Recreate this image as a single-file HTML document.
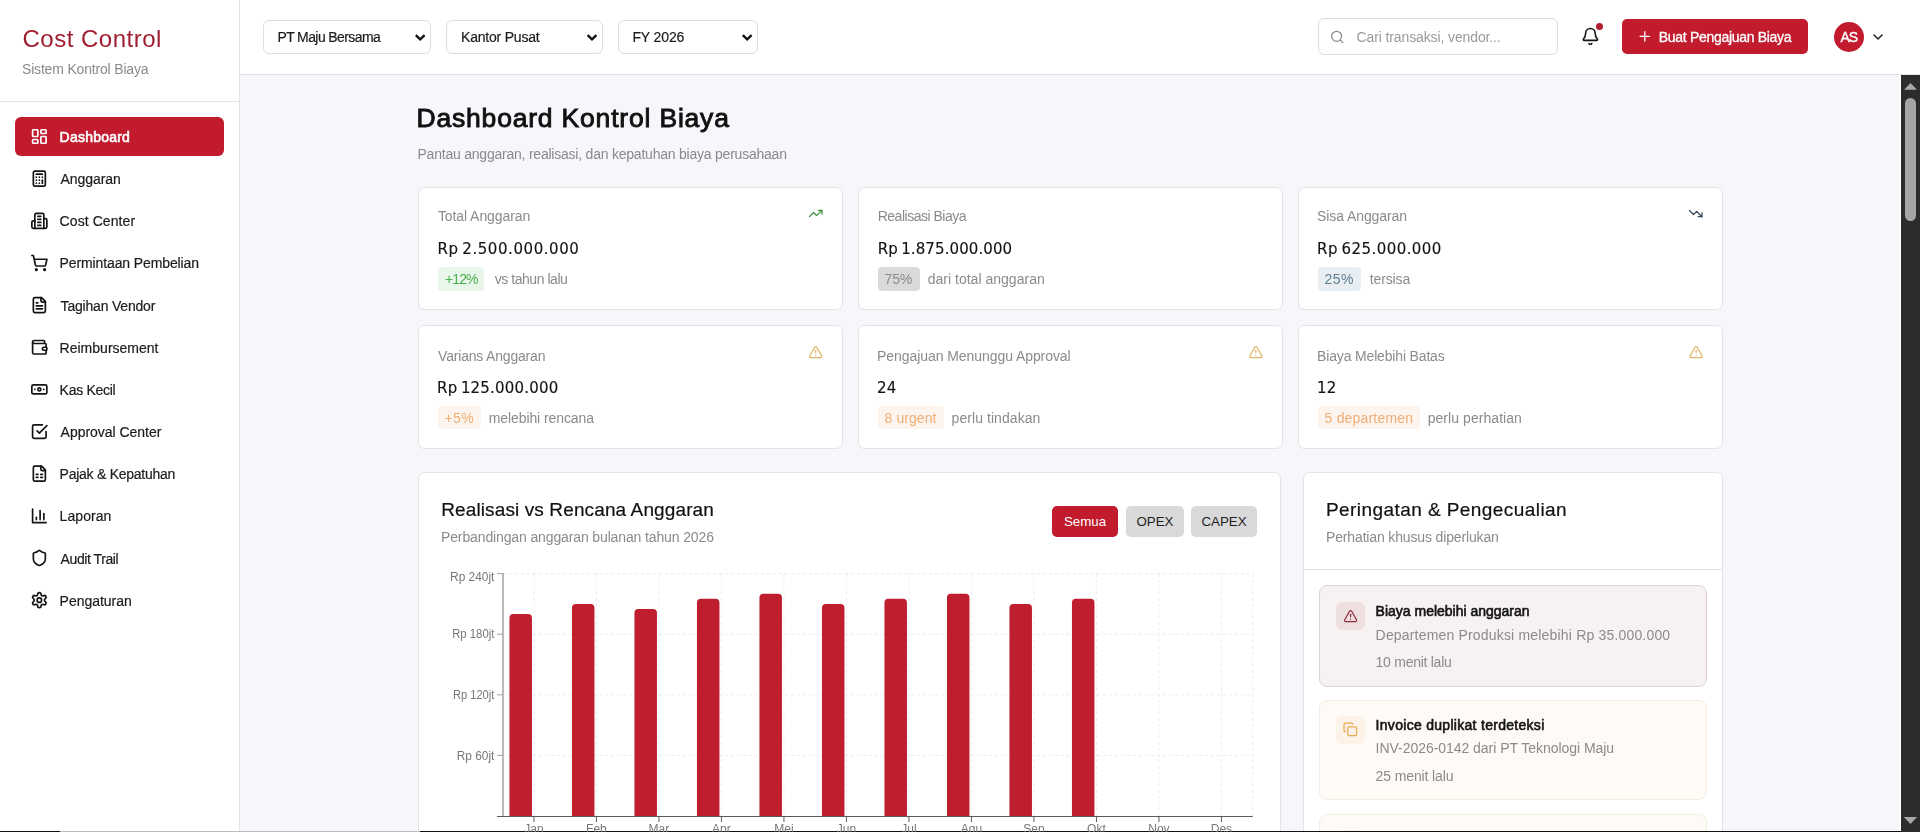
<!DOCTYPE html>
<html lang="id"><head><meta charset="utf-8"><title>Cost Control - Dashboard Kontrol Biaya</title>
<style>
html,body{margin:0;padding:0}
body{width:1920px;height:832px;overflow:hidden;position:relative;background:#f6f6fb;font-family:"Liberation Sans", Arial, sans-serif}
.b{position:absolute}
.t{position:absolute;white-space:pre;line-height:1;font-family:"Liberation Sans", Arial, sans-serif}
.btn{position:absolute;border-radius:5px;font-family:Arial,"Liberation Sans",sans-serif;font-size:13.333px;line-height:31px;text-align:center}
svg.ov{position:absolute;left:0;top:0;font-family:"Liberation Sans", Arial, sans-serif;will-change:transform}
.tx{position:absolute;left:0;top:0;width:1920px;height:832px;will-change:transform}
</style></head><body>
<div class="b" style="left:0px;top:0px;width:239px;height:832px;background:#fff"></div>
<div class="b" style="left:239px;top:0px;width:1px;height:832px;background:#e3e3e7"></div>
<div class="b" style="left:0px;top:101px;width:239px;height:1px;background:#e3e3e7"></div>
<div class="b" style="left:15px;top:117px;width:209px;height:39px;background:#c11b2d;border-radius:6px"></div>
<div class="b" style="left:240px;top:0px;width:1680px;height:74px;background:#fff"></div>
<div class="b" style="left:240px;top:74px;width:1680px;height:1px;background:#e3e3e7"></div>
<div class="b" style="left:263px;top:20px;width:168px;height:34px;box-sizing:border-box;border:1px solid #dedee2;border-radius:6px;background:#fff"></div>
<div class="b" style="left:446px;top:20px;width:157px;height:34px;box-sizing:border-box;border:1px solid #dedee2;border-radius:6px;background:#fff"></div>
<div class="b" style="left:618px;top:20px;width:140px;height:34px;box-sizing:border-box;border:1px solid #dedee2;border-radius:6px;background:#fff"></div>
<div class="b" style="left:1318px;top:18px;width:240px;height:36.5px;box-sizing:border-box;border:1px solid #dedee2;border-radius:6px;background:#fff"></div>
<div class="b" style="left:1622px;top:19px;width:186px;height:35px;background:#c11b2d;border-radius:5px"></div>
<div class="b" style="left:1834px;top:22px;width:30px;height:30px;background:#c11b2d;border-radius:50%"></div>
<div class="b" style="left:1596.1px;top:23.3px;width:7px;height:7px;background:#b31e32;border-radius:50%"></div>
<div class="b" style="left:418px;top:186.7px;width:425px;height:123.4px;box-sizing:border-box;border:1px solid #e3e3e7;border-radius:6.5px;background:#fff"></div>
<div class="b" style="left:858px;top:186.7px;width:425px;height:123.4px;box-sizing:border-box;border:1px solid #e3e3e7;border-radius:6.5px;background:#fff"></div>
<div class="b" style="left:1298px;top:186.7px;width:425px;height:123.4px;box-sizing:border-box;border:1px solid #e3e3e7;border-radius:6.5px;background:#fff"></div>
<div class="b" style="left:418px;top:324.9px;width:425px;height:124px;box-sizing:border-box;border:1px solid #e3e3e7;border-radius:6.5px;background:#fff"></div>
<div class="b" style="left:858px;top:324.9px;width:425px;height:124px;box-sizing:border-box;border:1px solid #e3e3e7;border-radius:6.5px;background:#fff"></div>
<div class="b" style="left:1298px;top:324.9px;width:425px;height:124px;box-sizing:border-box;border:1px solid #e3e3e7;border-radius:6.5px;background:#fff"></div>
<div class="b" style="left:438.4px;top:267.3px;width:45.8px;height:23.5px;background:#e9f6ea;border-radius:4px"></div>
<div class="b" style="left:878.2px;top:267.3px;width:41.7px;height:23.5px;background:#dadada;border-radius:4px"></div>
<div class="b" style="left:1318.1px;top:267.3px;width:42.7px;height:23.5px;background:#e8eef2;border-radius:4px"></div>
<div class="b" style="left:438.1px;top:406.2px;width:43.4px;height:22.8px;background:#fdf5ed;border-radius:4px"></div>
<div class="b" style="left:878.1px;top:406.2px;width:65.6px;height:22.8px;background:#fdf5ed;border-radius:4px"></div>
<div class="b" style="left:1318.1px;top:406.2px;width:101.5px;height:22.8px;background:#fdf5ed;border-radius:4px"></div>
<div class="b" style="left:418px;top:471.8px;width:862.5px;height:420px;box-sizing:border-box;border:1px solid #e3e3e7;border-radius:6.5px;background:#fff"></div>
<div class="b" style="left:1303px;top:471.8px;width:419.5px;height:420px;box-sizing:border-box;border:1px solid #e3e3e7;border-radius:6.5px;background:#fff"></div>
<div class="b" style="left:1304px;top:569px;width:418px;height:1px;background:#e3e3e7"></div>
<div class="b" style="left:1319px;top:585.3px;width:387.8px;height:101.5px;box-sizing:border-box;border:1px solid #dcd3d4;border-radius:8px;background:#f8f1f1"></div>
<div class="b" style="left:1335.5px;top:601.7px;width:29px;height:28px;background:#eedfe0;border-radius:6px"></div>
<div class="b" style="left:1319px;top:699.6px;width:387.8px;height:100.5px;box-sizing:border-box;border:1px solid #f4ece2;border-radius:8px;background:#fefaf5"></div>
<div class="b" style="left:1335.5px;top:716px;width:29px;height:28px;background:#fdf2e7;border-radius:6px"></div>
<div class="b" style="left:1319px;top:813.5px;width:387.8px;height:100.5px;box-sizing:border-box;border:1px solid #f4ece2;border-radius:8px;background:#fefaf5"></div>
<div class="b" style="left:1335.5px;top:829.8px;width:29px;height:28px;background:#fdf2e7;border-radius:6px"></div>
<div class="b" style="left:1900px;top:75px;width:1px;height:757px;background:#fff"></div>
<div class="b" style="left:1901px;top:75px;width:19px;height:757px;background:#2c2c2c"></div>
<div class="b" style="left:1905px;top:98px;width:11px;height:123px;background:#a5a5a5;border-radius:6px"></div>
<div class="b" style="left:0px;top:831px;width:60px;height:1px;background:#111"></div>
<div class="b" style="left:60px;top:831px;width:360px;height:1px;background:#bcbcbf"></div>
<div class="b" style="left:420px;top:831px;width:1481px;height:1px;background:#111"></div>
<svg class="ov" width="1920" height="832" viewBox="0 0 1920 832">
<g transform="translate(30.35 127.50) scale(0.7500)" fill="none" stroke="#fff" stroke-width="2.25" stroke-linecap="round" stroke-linejoin="round"><rect width="7" height="9" x="3" y="3" rx="1"/><rect width="7" height="5" x="14" y="3" rx="1"/><rect width="7" height="9" x="14" y="12" rx="1"/><rect width="7" height="5" x="3" y="16" rx="1"/></g>
<g transform="translate(30.35 169.65) scale(0.7500)" fill="none" stroke="#141414" stroke-width="2.25" stroke-linecap="round" stroke-linejoin="round"><rect width="16" height="20" x="4" y="2" rx="2"/><line x1="8" x2="16" y1="6" y2="6"/><line x1="16" x2="16" y1="14" y2="18"/><path d="M16 10h.01"/><path d="M12 10h.01"/><path d="M8 10h.01"/><path d="M12 14h.01"/><path d="M8 14h.01"/><path d="M12 18h.01"/><path d="M8 18h.01"/></g>
<g transform="translate(30.35 211.80) scale(0.7500)" fill="none" stroke="#141414" stroke-width="2.25" stroke-linecap="round" stroke-linejoin="round"><path d="M6 22V4a2 2 0 0 1 2-2h8a2 2 0 0 1 2 2v18Z"/><path d="M6 12H4a2 2 0 0 0-2 2v6a2 2 0 0 0 2 2h2"/><path d="M18 9h2a2 2 0 0 1 2 2v9a2 2 0 0 1-2 2h-2"/><path d="M10 6h4"/><path d="M10 10h4"/><path d="M10 14h4"/><path d="M10 18h4"/></g>
<g transform="translate(30.35 253.95) scale(0.7500)" fill="none" stroke="#141414" stroke-width="2.25" stroke-linecap="round" stroke-linejoin="round"><circle cx="8" cy="21" r="1"/><circle cx="19" cy="21" r="1"/><path d="M2.05 2.05h2l2.66 12.42a2 2 0 0 0 2 1.58h9.78a2 2 0 0 0 1.95-1.57l1.65-7.43H5.12"/></g>
<g transform="translate(30.35 296.10) scale(0.7500)" fill="none" stroke="#141414" stroke-width="2.25" stroke-linecap="round" stroke-linejoin="round"><path d="M15 2H6a2 2 0 0 0-2 2v16a2 2 0 0 0 2 2h12a2 2 0 0 0 2-2V7Z"/><path d="M14 2v4a2 2 0 0 0 2 2h4"/><path d="M10 9H8"/><path d="M16 13H8"/><path d="M16 17H8"/></g>
<g transform="translate(30.35 338.25) scale(0.7500)" fill="none" stroke="#141414" stroke-width="2.25" stroke-linecap="round" stroke-linejoin="round"><path d="M19 7V4a1 1 0 0 0-1-1H5a2 2 0 0 0 0 4h15a1 1 0 0 1 1 1v4h-3a2 2 0 0 0 0 4h3a1 1 0 0 0 1-1v-2a1 1 0 0 0-1-1"/><path d="M3 5v14a2 2 0 0 0 2 2h15a1 1 0 0 0 1-1v-4"/></g>
<g transform="translate(30.35 380.40) scale(0.7500)" fill="none" stroke="#141414" stroke-width="2.25" stroke-linecap="round" stroke-linejoin="round"><rect width="20" height="12" x="2" y="6" rx="2"/><circle cx="12" cy="12" r="2"/><path d="M6 12h.01M18 12h.01"/></g>
<g transform="translate(30.35 422.55) scale(0.7500)" fill="none" stroke="#141414" stroke-width="2.25" stroke-linecap="round" stroke-linejoin="round"><path d="m9 11 3 3L22 4"/><path d="M21 12v7a2 2 0 0 1-2 2H5a2 2 0 0 1-2-2V5a2 2 0 0 1 2-2h11"/></g>
<g transform="translate(30.35 464.70) scale(0.7500)" fill="none" stroke="#141414" stroke-width="2.25" stroke-linecap="round" stroke-linejoin="round"><path d="M15 2H6a2 2 0 0 0-2 2v16a2 2 0 0 0 2 2h12a2 2 0 0 0 2-2V7Z"/><path d="M14 2v4a2 2 0 0 0 2 2h4"/><path d="M8 13h2"/><path d="M14 13h2"/><path d="M8 17h2"/><path d="M14 17h2"/></g>
<g transform="translate(30.35 506.85) scale(0.7500)" fill="none" stroke="#141414" stroke-width="2.25" stroke-linecap="round" stroke-linejoin="round"><path d="M3 3v18h18"/><path d="M18 17V9"/><path d="M13 17V5"/><path d="M8 17v-3"/></g>
<g transform="translate(30.35 549.00) scale(0.7500)" fill="none" stroke="#141414" stroke-width="2.25" stroke-linecap="round" stroke-linejoin="round"><path d="M20 13c0 5-3.5 7.5-7.66 8.95a1 1 0 0 1-.67-.01C7.5 20.5 4 18 4 13V6a1 1 0 0 1 1-1c2 0 4.5-1.2 6.24-2.72a1.17 1.17 0 0 1 1.52 0C14.51 3.81 17 5 19 5a1 1 0 0 1 1 1z"/></g>
<g transform="translate(30.35 591.15) scale(0.7500)" fill="none" stroke="#141414" stroke-width="2.25" stroke-linecap="round" stroke-linejoin="round"><path d="M12.22 2h-.44a2 2 0 0 0-2 2v.18a2 2 0 0 1-1 1.73l-.43.25a2 2 0 0 1-2 0l-.15-.08a2 2 0 0 0-2.73.73l-.22.38a2 2 0 0 0 .73 2.73l.15.1a2 2 0 0 1 1 1.72v.51a2 2 0 0 1-1 1.74l-.15.09a2 2 0 0 0-.73 2.730l.22.38a2 2 0 0 0 2.73.73l.15-.08a2 2 0 0 1 2 0l.43.25a2 2 0 0 1 1 1.73V20a2 2 0 0 0 2 2h.44a2 2 0 0 0 2-2v-.18a2 2 0 0 1 1-1.73l.43-.25a2 2 0 0 1 2 0l.15.08a2 2 0 0 0 2.73-.73l.22-.39a2 2 0 0 0-.73-2.73l-.15-.08a2 2 0 0 1-1-1.74v-.5a2 2 0 0 1 1-1.74l.15-.09a2 2 0 0 0 .73-2.73l-.22-.38a2 2 0 0 0-2.73-.73l-.15.08a2 2 0 0 1-2 0l-.43-.25a2 2 0 0 1-1-1.73V4a2 2 0 0 0-2-2z"/><circle cx="12" cy="12" r="3"/></g>
<g transform="translate(415.6 34.6)"><path d="M0.2 0.6 L4.6 4.7 L9.0 0.6" fill="none" stroke="#111" stroke-width="2.4"/></g>
<g transform="translate(587.4 34.6)"><path d="M0.2 0.6 L4.6 4.7 L9.0 0.6" fill="none" stroke="#111" stroke-width="2.4"/></g>
<g transform="translate(742.6 34.6)"><path d="M0.2 0.6 L4.6 4.7 L9.0 0.6" fill="none" stroke="#111" stroke-width="2.4"/></g>
<g transform="translate(1329.75 29.45) scale(0.6250)" fill="none" stroke="#8a8a8a" stroke-width="2" stroke-linecap="round" stroke-linejoin="round"><circle cx="11" cy="11" r="8"/><path d="m21 21-4.3-4.3"/></g>
<g transform="translate(1580.90 26.90) scale(0.7917)" fill="none" stroke="#141414" stroke-width="2" stroke-linecap="round" stroke-linejoin="round"><path d="M10.268 21a2 2 0 0 0 3.464 0"/><path d="M3.262 15.326A1 1 0 0 0 4 17h16a1 1 0 0 0 .74-1.673C19.41 13.956 18 12.499 18 8A6 6 0 0 0 6 8c0 4.499-1.411 5.956-2.738 7.326"/></g>
<g transform="translate(1636.80 28.40) scale(0.6667)" fill="none" stroke="#fff" stroke-width="2" stroke-linecap="round" stroke-linejoin="round"><path d="M5 12h14"/><path d="M12 5v14"/></g>
<g transform="translate(1870.00 29.00) scale(0.6667)" fill="none" stroke="#141414" stroke-width="2" stroke-linecap="round" stroke-linejoin="round"><path d="m6 9 6 6 6-6"/></g>
<g transform="translate(808.20 205.95) scale(0.6250)" fill="none" stroke="#3a8f3f" stroke-width="2" stroke-linecap="round" stroke-linejoin="round"><polyline points="22 7 13.5 15.5 8.5 10.5 2 17"/><polyline points="16 7 22 7 22 13"/></g>
<g transform="translate(1688.20 206.10) scale(0.6250)" fill="none" stroke="#33485a" stroke-width="2" stroke-linecap="round" stroke-linejoin="round"><polyline points="22 17 13.5 8.5 8.5 13.5 2 7"/><polyline points="16 17 22 17 22 11"/></g>
<g transform="translate(808.45 344.90) scale(0.6042)" fill="none" stroke="#dcb463" stroke-width="2" stroke-linecap="round" stroke-linejoin="round"><path d="m21.73 18-8-14a2 2 0 0 0-3.48 0l-8 14A2 2 0 0 0 4 21h16a2 2 0 0 0 1.73-3"/><path d="M12 9v4"/><path d="M12 17h.01"/></g>
<g transform="translate(1248.60 344.90) scale(0.6042)" fill="none" stroke="#dcb463" stroke-width="2" stroke-linecap="round" stroke-linejoin="round"><path d="m21.73 18-8-14a2 2 0 0 0-3.48 0l-8 14A2 2 0 0 0 4 21h16a2 2 0 0 0 1.73-3"/><path d="M12 9v4"/><path d="M12 17h.01"/></g>
<g transform="translate(1688.90 344.90) scale(0.6042)" fill="none" stroke="#dcb463" stroke-width="2" stroke-linecap="round" stroke-linejoin="round"><path d="m21.73 18-8-14a2 2 0 0 0-3.48 0l-8 14A2 2 0 0 0 4 21h16a2 2 0 0 0 1.73-3"/><path d="M12 9v4"/><path d="M12 17h.01"/></g>
<g transform="translate(1343.35 608.90) scale(0.6042)" fill="none" stroke="#8f2a3a" stroke-width="2" stroke-linecap="round" stroke-linejoin="round"><path d="m21.73 18-8-14a2 2 0 0 0-3.48 0l-8 14A2 2 0 0 0 4 21h16a2 2 0 0 0 1.73-3"/><path d="M12 9v4"/><path d="M12 17h.01"/></g>
<g transform="translate(1342.80 721.80) scale(0.6250)" fill="none" stroke="#e8aa52" stroke-width="2" stroke-linecap="round" stroke-linejoin="round"><rect width="14" height="14" x="8" y="8" rx="2" ry="2"/><path d="M4 16c-1.1 0-2-.9-2-2V4c0-1.1.9-2 2-2h10c1.1 0 2 .9 2 2"/></g>
<g stroke="#ebebeb" stroke-width="1" stroke-dasharray="3 3"><line x1="502.7" y1="573.60" x2="1252.7" y2="573.60"/><line x1="502.7" y1="634.20" x2="1252.7" y2="634.20"/><line x1="502.7" y1="694.80" x2="1252.7" y2="694.80"/><line x1="502.7" y1="755.40" x2="1252.7" y2="755.40"/><line x1="533.95" y1="573.6" x2="533.95" y2="816.0"/><line x1="596.45" y1="573.6" x2="596.45" y2="816.0"/><line x1="658.95" y1="573.6" x2="658.95" y2="816.0"/><line x1="721.45" y1="573.6" x2="721.45" y2="816.0"/><line x1="783.95" y1="573.6" x2="783.95" y2="816.0"/><line x1="846.45" y1="573.6" x2="846.45" y2="816.0"/><line x1="908.95" y1="573.6" x2="908.95" y2="816.0"/><line x1="971.45" y1="573.6" x2="971.45" y2="816.0"/><line x1="1033.95" y1="573.6" x2="1033.95" y2="816.0"/><line x1="1096.45" y1="573.6" x2="1096.45" y2="816.0"/><line x1="1158.95" y1="573.6" x2="1158.95" y2="816.0"/><line x1="1221.45" y1="573.6" x2="1221.45" y2="816.0"/><line x1="1252.7" y1="573.6" x2="1252.7" y2="816.0"/></g>
<path d="M509.45 816.0 V618.00 Q509.45 614.00 513.45 614.00 H527.95 Q531.95 614.00 531.95 618.00 V816.0 Z" fill="#be1e2e"/>
<path d="M571.95 816.0 V607.90 Q571.95 603.90 575.95 603.90 H590.45 Q594.45 603.90 594.45 607.90 V816.0 Z" fill="#be1e2e"/>
<path d="M634.45 816.0 V612.95 Q634.45 608.95 638.45 608.95 H652.95 Q656.95 608.95 656.95 612.95 V816.0 Z" fill="#be1e2e"/>
<path d="M696.95 816.0 V602.85 Q696.95 598.85 700.95 598.85 H715.45 Q719.45 598.85 719.45 602.85 V816.0 Z" fill="#be1e2e"/>
<path d="M759.45 816.0 V597.80 Q759.45 593.80 763.45 593.80 H777.95 Q781.95 593.80 781.95 597.80 V816.0 Z" fill="#be1e2e"/>
<path d="M821.95 816.0 V607.90 Q821.95 603.90 825.95 603.90 H840.45 Q844.45 603.90 844.45 607.90 V816.0 Z" fill="#be1e2e"/>
<path d="M884.45 816.0 V602.85 Q884.45 598.85 888.45 598.85 H902.95 Q906.95 598.85 906.95 602.85 V816.0 Z" fill="#be1e2e"/>
<path d="M946.95 816.0 V597.80 Q946.95 593.80 950.95 593.80 H965.45 Q969.45 593.80 969.45 597.80 V816.0 Z" fill="#be1e2e"/>
<path d="M1009.45 816.0 V607.90 Q1009.45 603.90 1013.45 603.90 H1027.95 Q1031.95 603.90 1031.95 607.90 V816.0 Z" fill="#be1e2e"/>
<path d="M1071.95 816.0 V602.85 Q1071.95 598.85 1075.95 598.85 H1090.45 Q1094.45 598.85 1094.45 602.85 V816.0 Z" fill="#be1e2e"/>
<g stroke="#a3a3a3" stroke-width="1.5"><line x1="503" y1="573.1" x2="503" y2="816"/></g>
<g stroke="#a3a3a3" stroke-width="1"><line x1="497" y1="573.60" x2="503" y2="573.60"/><line x1="497" y1="634.20" x2="503" y2="634.20"/><line x1="497" y1="694.80" x2="503" y2="694.80"/><line x1="497" y1="755.40" x2="503" y2="755.40"/></g>
<g stroke="#5a5a5a" stroke-width="1"><line x1="497" y1="816.5" x2="1252.7" y2="816.5"/><line x1="533.95" y1="816.5" x2="533.95" y2="822"/><line x1="596.45" y1="816.5" x2="596.45" y2="822"/><line x1="658.95" y1="816.5" x2="658.95" y2="822"/><line x1="721.45" y1="816.5" x2="721.45" y2="822"/><line x1="783.95" y1="816.5" x2="783.95" y2="822"/><line x1="846.45" y1="816.5" x2="846.45" y2="822"/><line x1="908.95" y1="816.5" x2="908.95" y2="822"/><line x1="971.45" y1="816.5" x2="971.45" y2="822"/><line x1="1033.95" y1="816.5" x2="1033.95" y2="822"/><line x1="1096.45" y1="816.5" x2="1096.45" y2="822"/><line x1="1158.95" y1="816.5" x2="1158.95" y2="822"/><line x1="1221.45" y1="816.5" x2="1221.45" y2="822"/></g>
<text x="450.10" y="580.9" textLength="44.3" lengthAdjust="spacingAndGlyphs" font-size="12" fill="#777">Rp 240jt</text>
<text x="452.20" y="638" textLength="42.2" lengthAdjust="spacingAndGlyphs" font-size="12" fill="#777">Rp 180jt</text>
<text x="452.90" y="698.9" textLength="41.5" lengthAdjust="spacingAndGlyphs" font-size="12" fill="#777">Rp 120jt</text>
<text x="456.80" y="759.5" textLength="37.6" lengthAdjust="spacingAndGlyphs" font-size="12" fill="#777">Rp 60jt</text>
<text x="533.95" y="832.6" text-anchor="middle" font-size="12" fill="#777">Jan</text>
<text x="596.45" y="832.6" text-anchor="middle" font-size="12" fill="#777">Feb</text>
<text x="658.95" y="832.6" text-anchor="middle" font-size="12" fill="#777">Mar</text>
<text x="721.45" y="832.6" text-anchor="middle" font-size="12" fill="#777">Apr</text>
<text x="783.95" y="832.6" text-anchor="middle" font-size="12" fill="#777">Mei</text>
<text x="846.45" y="832.6" text-anchor="middle" font-size="12" fill="#777">Jun</text>
<text x="908.95" y="832.6" text-anchor="middle" font-size="12" fill="#777">Jul</text>
<text x="971.45" y="832.6" text-anchor="middle" font-size="12" fill="#777">Agu</text>
<text x="1033.95" y="832.6" text-anchor="middle" font-size="12" fill="#777">Sep</text>
<text x="1096.45" y="832.6" text-anchor="middle" font-size="12" fill="#777">Okt</text>
<text x="1158.95" y="832.6" text-anchor="middle" font-size="12" fill="#777">Nov</text>
<text x="1221.45" y="832.6" text-anchor="middle" font-size="12" fill="#777">Des</text>
<path d="M1904 89.7 L1910.5 83 L1917 89.7Z" fill="#a8a8a8"/>
<path d="M1903.8 816.9 L1917.1 816.9 L1910.5 824Z" fill="#a8a8a8"/>
</svg>
<div class="btn" style="left:1052px;top:506px;width:66px;height:31px;background:#c11b2d;color:#fff">Semua</div><div class="btn" style="left:1126px;top:506px;width:58px;height:31px;background:#d9d9d9;color:#1f1f1f">OPEX</div><div class="btn" style="left:1191px;top:506px;width:66px;height:31px;background:#d9d9d9;color:#1f1f1f">CAPEX</div>
<div class="tx">
<span class="t" style="left:22.50px;top:26.50px;font-size:24px;letter-spacing:0.500px;color:#a01d30;">Cost Control</span>
<span class="t" style="left:22.00px;top:62.00px;font-size:14px;letter-spacing:-0.179px;color:#8b8b8b;">Sistem Kontrol Biaya</span>
<span class="t" style="left:59.60px;top:130.00px;font-size:14px;letter-spacing:0.225px;color:#ffffff;-webkit-text-stroke:0.6px #ffffff;">Dashboard</span>
<span class="t" style="left:60.60px;top:172.15px;font-size:14px;letter-spacing:-0.086px;color:#1c1c1c;-webkit-text-stroke:0.2px #1c1c1c;">Anggaran</span>
<span class="t" style="left:59.60px;top:214.30px;font-size:14px;letter-spacing:0.080px;color:#1c1c1c;-webkit-text-stroke:0.2px #1c1c1c;">Cost Center</span>
<span class="t" style="left:59.60px;top:256.45px;font-size:14px;letter-spacing:-0.116px;color:#1c1c1c;-webkit-text-stroke:0.2px #1c1c1c;">Permintaan Pembelian</span>
<span class="t" style="left:60.60px;top:298.60px;font-size:14px;letter-spacing:-0.200px;color:#1c1c1c;-webkit-text-stroke:0.2px #1c1c1c;">Tagihan Vendor</span>
<span class="t" style="left:59.60px;top:340.75px;font-size:14px;letter-spacing:0.008px;color:#1c1c1c;-webkit-text-stroke:0.2px #1c1c1c;">Reimbursement</span>
<span class="t" style="left:59.60px;top:382.90px;font-size:14px;letter-spacing:-0.288px;color:#1c1c1c;-webkit-text-stroke:0.2px #1c1c1c;">Kas Kecil</span>
<span class="t" style="left:60.60px;top:425.05px;font-size:14px;letter-spacing:-0.029px;color:#1c1c1c;-webkit-text-stroke:0.2px #1c1c1c;">Approval Center</span>
<span class="t" style="left:59.60px;top:467.20px;font-size:14px;letter-spacing:-0.256px;color:#1c1c1c;-webkit-text-stroke:0.2px #1c1c1c;">Pajak &amp; Kepatuhan</span>
<span class="t" style="left:59.60px;top:509.35px;font-size:14px;letter-spacing:0.067px;color:#1c1c1c;-webkit-text-stroke:0.2px #1c1c1c;">Laporan</span>
<span class="t" style="left:60.60px;top:551.50px;font-size:14px;letter-spacing:-0.420px;color:#1c1c1c;-webkit-text-stroke:0.2px #1c1c1c;">Audit Trail</span>
<span class="t" style="left:59.60px;top:593.65px;font-size:14px;letter-spacing:-0.022px;color:#1c1c1c;-webkit-text-stroke:0.2px #1c1c1c;">Pengaturan</span>
<span class="t" style="left:277.40px;top:29.90px;font-size:14px;letter-spacing:-0.600px;color:#1c1c1c;-webkit-text-stroke:0.2px #1c1c1c;">PT Maju Bersama</span>
<span class="t" style="left:461.00px;top:29.90px;font-size:14px;letter-spacing:-0.209px;color:#1c1c1c;-webkit-text-stroke:0.2px #1c1c1c;">Kantor Pusat</span>
<span class="t" style="left:632.40px;top:29.90px;font-size:14px;letter-spacing:-0.117px;color:#1c1c1c;-webkit-text-stroke:0.2px #1c1c1c;">FY 2026</span>
<span class="t" style="left:1356.60px;top:30.40px;font-size:14px;letter-spacing:-0.121px;color:#9a9a9a;">Cari transaksi, vendor...</span>
<span class="t" style="left:1658.80px;top:29.80px;font-size:14px;letter-spacing:-0.305px;color:#ffffff;-webkit-text-stroke:0.3px #ffffff;">Buat Pengajuan Biaya</span>
<span class="t" style="left:1840.40px;top:29.80px;font-size:14px;letter-spacing:-1.100px;color:#ffffff;-webkit-text-stroke:0.35px #ffffff;">AS</span>
<span class="t" style="left:416.50px;top:105.07px;font-size:26.5px;letter-spacing:0.809px;color:#111111;-webkit-text-stroke:0.9px #111111;">Dashboard Kontrol Biaya</span>
<span class="t" style="left:417.50px;top:147.10px;font-size:14px;letter-spacing:-0.223px;color:#8b8b8b;">Pantau anggaran, realisasi, dan kepatuhan biaya perusahaan</span>
<span class="t" style="left:437.90px;top:209.10px;font-size:14px;letter-spacing:-0.077px;color:#8b8b8b;">Total Anggaran</span>
<span class="t" style="left:437.40px;top:241.51px;font-size:15px;letter-spacing:0.567px;color:#141414;font-family:'DejaVu Sans',sans-serif;-webkit-text-stroke:0.15px #141414;word-spacing:-1.5px;">Rp 2.500.000.000</span>
<span class="t" style="left:445.00px;top:271.70px;font-size:14px;letter-spacing:-0.900px;color:#4caf50;">+12%</span>
<span class="t" style="left:494.70px;top:271.70px;font-size:14px;letter-spacing:-0.450px;color:#8b8b8b;">vs tahun lalu</span>
<span class="t" style="left:877.70px;top:209.10px;font-size:14px;letter-spacing:-0.493px;color:#8b8b8b;">Realisasi Biaya</span>
<span class="t" style="left:877.70px;top:241.51px;font-size:15px;letter-spacing:0.100px;color:#141414;font-family:'DejaVu Sans',sans-serif;-webkit-text-stroke:0.15px #141414;word-spacing:-1.5px;">Rp 1.875.000.000</span>
<span class="t" style="left:884.40px;top:271.70px;font-size:14px;letter-spacing:-0.050px;color:#8a8a8a;">75%</span>
<span class="t" style="left:927.70px;top:271.70px;font-size:14px;letter-spacing:0.017px;color:#8b8b8b;">dari total anggaran</span>
<span class="t" style="left:1317.10px;top:209.10px;font-size:14px;letter-spacing:-0.092px;color:#8b8b8b;">Sisa Anggaran</span>
<span class="t" style="left:1317.10px;top:241.51px;font-size:15px;letter-spacing:0.431px;color:#141414;font-family:'DejaVu Sans',sans-serif;-webkit-text-stroke:0.15px #141414;word-spacing:-1.5px;">Rp 625.000.000</span>
<span class="t" style="left:1324.60px;top:271.70px;font-size:14px;letter-spacing:0.450px;color:#5f8196;">25%</span>
<span class="t" style="left:1369.70px;top:271.70px;font-size:14px;letter-spacing:-0.117px;color:#8b8b8b;">tersisa</span>
<span class="t" style="left:438.10px;top:348.60px;font-size:14px;letter-spacing:-0.193px;color:#8b8b8b;">Varians Anggaran</span>
<span class="t" style="left:437.10px;top:380.91px;font-size:15px;letter-spacing:0.192px;color:#141414;font-family:'DejaVu Sans',sans-serif;-webkit-text-stroke:0.15px #141414;word-spacing:-1.5px;">Rp 125.000.000</span>
<span class="t" style="left:444.60px;top:411.20px;font-size:14px;letter-spacing:0.350px;color:#f0ad76;">+5%</span>
<span class="t" style="left:488.70px;top:411.20px;font-size:14px;letter-spacing:-0.087px;color:#8b8b8b;">melebihi rencana</span>
<span class="t" style="left:877.10px;top:348.60px;font-size:14px;letter-spacing:-0.069px;color:#8b8b8b;">Pengajuan Menunggu Approval</span>
<span class="t" style="left:877.10px;top:380.91px;font-size:15px;letter-spacing:0.100px;color:#141414;font-family:'DejaVu Sans',sans-serif;-webkit-text-stroke:0.15px #141414;word-spacing:-1.5px;">24</span>
<span class="t" style="left:884.60px;top:411.20px;font-size:14px;letter-spacing:0.057px;color:#f0ad76;">8 urgent</span>
<span class="t" style="left:951.60px;top:411.20px;font-size:14px;letter-spacing:0.062px;color:#8b8b8b;">perlu tindakan</span>
<span class="t" style="left:1317.10px;top:348.60px;font-size:14px;letter-spacing:-0.163px;color:#8b8b8b;">Biaya Melebihi Batas</span>
<span class="t" style="left:1317.10px;top:380.91px;font-size:15px;letter-spacing:0.100px;color:#141414;font-family:'DejaVu Sans',sans-serif;-webkit-text-stroke:0.15px #141414;word-spacing:-1.5px;">12</span>
<span class="t" style="left:1324.60px;top:411.20px;font-size:14px;letter-spacing:0.182px;color:#f0ad76;">5 departemen</span>
<span class="t" style="left:1427.70px;top:411.20px;font-size:14px;letter-spacing:0.057px;color:#8b8b8b;">perlu perhatian</span>
<span class="t" style="left:441.20px;top:500.15px;font-size:19px;letter-spacing:0.118px;color:#111111;-webkit-text-stroke:0.2px #111111;">Realisasi vs Rencana Anggaran</span>
<span class="t" style="left:441.00px;top:530.00px;font-size:14px;letter-spacing:-0.128px;color:#8b8b8b;">Perbandingan anggaran bulanan tahun 2026</span>
<span class="t" style="left:1325.90px;top:500.15px;font-size:19px;letter-spacing:0.438px;color:#111111;-webkit-text-stroke:0.2px #111111;">Peringatan &amp; Pengecualian</span>
<span class="t" style="left:1326.00px;top:530.20px;font-size:14px;letter-spacing:-0.146px;color:#8b8b8b;">Perhatian khusus diperlukan</span>
<span class="t" style="left:1375.60px;top:604.40px;font-size:14px;letter-spacing:-0.005px;color:#141414;-webkit-text-stroke:0.6px #141414;">Biaya melebihi anggaran</span>
<span class="t" style="left:1375.60px;top:628.30px;font-size:14px;letter-spacing:0.180px;color:#8b8b8b;">Departemen Produksi melebihi Rp 35.000.000</span>
<span class="t" style="left:1375.60px;top:655.20px;font-size:14px;letter-spacing:-0.267px;color:#8b8b8b;">10 menit lalu</span>
<span class="t" style="left:1375.60px;top:718.10px;font-size:14px;letter-spacing:0.292px;color:#141414;-webkit-text-stroke:0.6px #141414;">Invoice duplikat terdeteksi</span>
<span class="t" style="left:1375.60px;top:741.30px;font-size:14px;letter-spacing:-0.040px;color:#8b8b8b;">INV-2026-0142 dari PT Teknologi Maju</span>
<span class="t" style="left:1375.60px;top:768.90px;font-size:14px;letter-spacing:-0.125px;color:#8b8b8b;">25 menit lalu</span>
</div>
</body></html>
